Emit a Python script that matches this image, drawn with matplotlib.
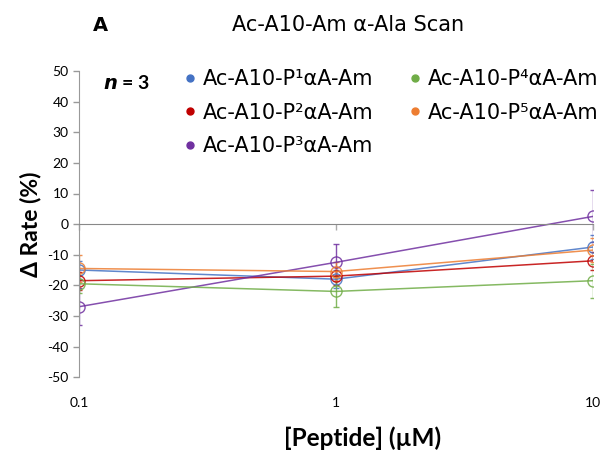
import numpy as np
import matplotlib.pyplot as plt

conc = [0.1, 1, 10]
labels = ['Ac-A10-P¹αA-Am', 'Ac-A10-P²αA-Am', 'Ac-A10-P³αA-Am',
          'Ac-A10-P⁴αA-Am', 'Ac-A10-P⁵αA-Am']
colors = ['#4472C4', '#C00000', '#7030A0', '#70AD47', '#ED7D31']

p1 = [-15.0, -18.0, -7.5]
p2 = [-18.5, -17.0, -12.0]
p3 = [-27.0, -12.5, 2.5]
p4 = [-19.5, -22.0, -18.5]
p5 = [-14.5, -15.5, -8.5]
p1_err = [3, 3, 4]
p2_err = [3, 3, 3]
p3_err = [6, 6, 8.5]
p4_err = [3, 5, 5.5]
p5_err = [4.5, 3, 4]

means = [p1, p2, p3, p4, p5]
errs = [p1_err, p2_err, p3_err, p4_err, p5_err]

plt.rcParams['font.family'] = ['Lato', 'DejaVu Sans']
plt.rcParams['axes.unicode_minus'] = False

fig = plt.figure(figsize=(6.03, 4.5), dpi=100)
ax = fig.add_axes([0.131, 0.162, 0.852, 0.68])

for m, e, c, lab in zip(means, errs, colors, labels):
    ax.errorbar(conc, m, yerr=e, color=c, lw=1.1, elinewidth=1.0, capsize=2.5,
                marker='o', ms=8, mfc='none', mec=c, mew=1.0, alpha=0.85)
    ax.plot([], [], 'o', color=c, ms=5, label=lab)

ax.set_xscale('log')
ax.set_xlim(0.1, 10)
ax.set_ylim(-50, 50)
ax.set_yticks(np.arange(-50, 51, 10))
ax.tick_params(axis='y', labelsize=10, length=4, color='#999999', width=1)

for s in ['top', 'right']:
    ax.spines[s].set_visible(False)
ax.spines['left'].set_color('#999999')
ax.spines['bottom'].set_position(('data', 0))
ax.spines['bottom'].set_color('#888888')
ax.set_xticks(conc)
ax.tick_params(axis='x', which='major', labelbottom=False, length=4,
               color='#aaaaaa', width=1)
ax.tick_params(axis='x', which='minor', length=0)

sec = ax.secondary_xaxis('bottom')
sec.set_xticks(conc)
sec.set_xticklabels(['0.1', '1', '10'])
sec.spines['bottom'].set_visible(False)
sec.tick_params(axis='x', length=0, labelsize=10, pad=14)
sec.tick_params(axis='x', which='minor', length=0)

ax.set_ylabel('Δ Rate (%)', fontsize=16.5, fontweight='bold', labelpad=4)

leg = ax.legend(loc='upper left', bbox_to_anchor=(0.16, 1.068), ncol=2,
                frameon=False, prop={'family': 'DejaVu Sans', 'size': 15},
                handletextpad=0.1, columnspacing=1.5, handlelength=1.0,
                labelspacing=0.65)

ax.text(0.047, 0.99, '$\\mathbfit{n}$ = 3', transform=ax.transAxes,
        fontsize=14, fontweight='bold', va='top')

fig.text(0.166, 0.944, 'A', fontsize=14, fontweight='bold', ha='center', va='center',
         family='DejaVu Sans')
fig.text(0.577, 0.944, 'Ac-A10-Am α-Ala Scan', fontsize=15, ha='center', va='center',
         family='DejaVu Sans')
fig.text(0.602, 0.027, '[Peptide] (µM)', fontsize=17.5, fontweight='bold',
         ha='center', va='center')

fig.savefig('out.png', dpi=100)
